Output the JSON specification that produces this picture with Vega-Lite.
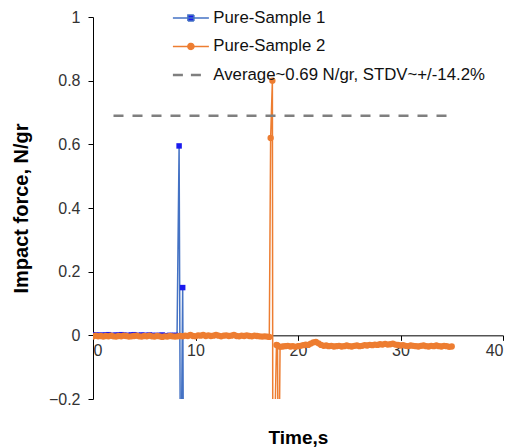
{
  "$schema": "https://vega.github.io/schema/vega-lite/v6.json",
  "width": 410,
  "height": 382,
  "autosize": "none",
  "padding": {"left": 93, "top": 17, "right": 8, "bottom": 49},
  "background": "white",
  "config": {"view": {"stroke": null}, "font": "Liberation Sans"},
  "datasets": {
    "s1": [
      {"t":0,"f":0.002},{"t":0.25,"f":0.0},{"t":0.5,"f":0.001},{"t":0.75,"f":-0.001},{"t":1,"f":0.001},{"t":1.25,"f":0.0},{"t":1.5,"f":0.002},{"t":1.75,"f":0.0},{"t":2,"f":-0.001},{"t":2.25,"f":0.001},{"t":2.5,"f":0.0},{"t":2.75,"f":0.002},{"t":3,"f":0.001},{"t":3.25,"f":-0.001},{"t":3.5,"f":0.0},{"t":3.75,"f":0.001},{"t":4,"f":0.002},{"t":4.25,"f":0.0},{"t":4.5,"f":-0.001},{"t":4.75,"f":0.001},{"t":5,"f":0.0},{"t":5.25,"f":-0.001},{"t":5.5,"f":0.001},{"t":5.75,"f":0.0},{"t":6,"f":-0.002},{"t":6.25,"f":0.0},{"t":6.5,"f":-0.001},{"t":6.75,"f":0.001},{"t":7,"f":-0.001},{"t":7.25,"f":-0.002},{"t":7.5,"f":0.0},{"t":7.75,"f":-0.001},{"t":8,"f":0.0},{"t":8.2,"f":-0.001},
      {"t":8.4,"f":0.595},{"t":8.55,"f":-0.6},{"t":8.75,"f":0.15},{"t":8.85,"f":-0.6}
    ],
    "s2": [
      {"t":0,"f":-0.004},{"t":0.25,"f":-0.001},{"t":0.5,"f":-0.003},{"t":0.75,"f":-0.002},{"t":1,"f":-0.004},{"t":1.25,"f":-0.002},{"t":1.5,"f":-0.003},{"t":1.75,"f":-0.001},{"t":2,"f":-0.003},{"t":2.25,"f":-0.004},{"t":2.5,"f":-0.002},{"t":2.75,"f":-0.003},{"t":3,"f":-0.001},{"t":3.25,"f":-0.002},{"t":3.5,"f":-0.004},{"t":3.75,"f":-0.003},{"t":4,"f":-0.002},{"t":4.25,"f":-0.001},{"t":4.5,"f":-0.003},{"t":4.75,"f":-0.004},{"t":5,"f":-0.002},{"t":5.25,"f":-0.003},{"t":5.5,"f":-0.001},{"t":5.75,"f":-0.003},{"t":6,"f":-0.004},{"t":6.25,"f":-0.002},{"t":6.5,"f":-0.003},{"t":6.75,"f":-0.005},{"t":7,"f":-0.003},{"t":7.25,"f":-0.004},{"t":7.5,"f":-0.002},{"t":7.75,"f":-0.003},{"t":8,"f":-0.004},{"t":8.25,"f":-0.003},{"t":8.5,"f":-0.002},{"t":8.75,"f":-0.003},{"t":9,"f":-0.001},{"t":9.25,"f":-0.002},{"t":9.5,"f":0.001},{"t":9.75,"f":-0.002},{"t":10,"f":-0.003},{"t":10.25,"f":0.0},{"t":10.5,"f":-0.001},{"t":10.75,"f":0.001},{"t":11,"f":-0.002},{"t":11.25,"f":0.0},{"t":11.5,"f":-0.002},{"t":11.75,"f":-0.001},{"t":12,"f":0.001},{"t":12.25,"f":-0.001},{"t":12.5,"f":-0.003},{"t":12.75,"f":-0.001},{"t":13,"f":0.0},{"t":13.25,"f":-0.002},{"t":13.5,"f":-0.001},{"t":13.75,"f":0.001},{"t":14,"f":-0.002},{"t":14.25,"f":-0.003},{"t":14.5,"f":-0.001},{"t":14.75,"f":-0.002},{"t":15,"f":0.0},{"t":15.25,"f":-0.002},{"t":15.5,"f":-0.003},{"t":15.75,"f":-0.001},{"t":16,"f":-0.002},{"t":16.25,"f":-0.003},{"t":16.5,"f":-0.004},{"t":16.75,"f":-0.003},{"t":17,"f":-0.004},{"t":17.2,"f":-0.005},
      {"t":17.33,"f":0.62},{"t":17.5,"f":0.8},{"t":17.55,"f":-0.6},{"t":17.9,"f":-0.03},{"t":18.0,"f":-0.032},{"t":18.1,"f":-0.6},{"t":18.25,"f":-0.036},
      {"t":18.5,"f":-0.035},{"t":18.75,"f":-0.034},{"t":19,"f":-0.033},{"t":19.25,"f":-0.035},{"t":19.5,"f":-0.034},{"t":19.75,"f":-0.036},{"t":20,"f":-0.034},{"t":20.25,"f":-0.033},{"t":20.5,"f":-0.031},{"t":20.75,"f":-0.029},{"t":21,"f":-0.03},{"t":21.25,"f":-0.026},{"t":21.5,"f":-0.022},{"t":21.75,"f":-0.021},{"t":22,"f":-0.025},{"t":22.25,"f":-0.03},{"t":22.5,"f":-0.033},{"t":22.75,"f":-0.032},{"t":23,"f":-0.034},{"t":23.25,"f":-0.033},{"t":23.5,"f":-0.035},{"t":23.75,"f":-0.034},{"t":24,"f":-0.033},{"t":24.25,"f":-0.035},{"t":24.5,"f":-0.034},{"t":24.75,"f":-0.032},{"t":25,"f":-0.034},{"t":25.25,"f":-0.035},{"t":25.5,"f":-0.033},{"t":25.75,"f":-0.032},{"t":26,"f":-0.034},{"t":26.25,"f":-0.033},{"t":26.5,"f":-0.031},{"t":26.75,"f":-0.032},{"t":27,"f":-0.03},{"t":27.25,"f":-0.031},{"t":27.5,"f":-0.029},{"t":27.75,"f":-0.03},{"t":28,"f":-0.028},{"t":28.25,"f":-0.029},{"t":28.5,"f":-0.027},{"t":28.75,"f":-0.029},{"t":29,"f":-0.028},{"t":29.25,"f":-0.026},{"t":29.5,"f":-0.029},{"t":29.75,"f":-0.03},{"t":30,"f":-0.032},{"t":30.25,"f":-0.031},{"t":30.5,"f":-0.033},{"t":30.75,"f":-0.034},{"t":31,"f":-0.032},{"t":31.25,"f":-0.033},{"t":31.5,"f":-0.034},{"t":31.75,"f":-0.035},{"t":32,"f":-0.033},{"t":32.25,"f":-0.032},{"t":32.5,"f":-0.034},{"t":32.75,"f":-0.035},{"t":33,"f":-0.033},{"t":33.25,"f":-0.034},{"t":33.5,"f":-0.032},{"t":33.75,"f":-0.034},{"t":34,"f":-0.035},{"t":34.25,"f":-0.033},{"t":34.5,"f":-0.034},{"t":34.75,"f":-0.036},{"t":35,"f":-0.035}
    ],
    "avg": [{"t":2,"f":0.69},{"t":35,"f":0.69}]
  },
  "encoding": {
    "x": {
      "field": "t", "type": "quantitative",
      "scale": {"domain": [0, 40], "nice": false, "zero": false},
      "axis": {
        "title": "Time,s", "values": [0, 10, 20, 30, 40], "offset": -63.67,
        "grid": false, "domainColor": "#000", "tickColor": "#000", "tickSize": 5,
        "labelFontSize": 16, "labelColor": "#333", "labelPadding": 2,
        "titleFontSize": 19, "titleFontWeight": "bold", "titleColor": "#000", "titlePadding": 70
      }
    },
    "y": {
      "field": "f", "type": "quantitative",
      "scale": {"domain": [-0.2, 1], "nice": false, "zero": false},
      "axis": {
        "title": "Impact force, N/gr", "values": [-0.2, 0, 0.2, 0.4, 0.6, 0.8, 1],
        "labelExpr": "format(datum.value, '~g')",
        "grid": false, "domainColor": "#000", "tickColor": "#000", "tickSize": 5,
        "labelFontSize": 16, "labelColor": "#333", "labelPadding": 8,
        "titleFontSize": 20, "titleFontWeight": "bold", "titleColor": "#000", "titlePadding": 17
      }
    }
  },
  "layer": [
    {
      "data": {"name": "s1"},
      "mark": {"type": "line", "strokeWidth": 1.5, "clip": true},
      "encoding": {
        "color": {
          "datum": "Pure-Sample 1",
          "scale": {
            "domain": ["Pure-Sample 1", "Pure-Sample 2", "Average~0.69 N/gr, STDV~+/-14.2%"],
            "range": ["#4472C4", "#ED7D31", "#7F7F7F"]
          },
          "legend": {
            "title": null, "orient": "none", "legendX": 89.5, "legendY": -7.5,
            "labelFontSize": 16.8, "labelColor": "#111", "labelOffset": 14, "labelLimit": 400,
            "rowPadding": 10.5, "symbolSize": 144, "symbolStrokeWidth": 1.5,
            "encode": {
              "symbols": {
                "update": {
                  "shape": {"signal": "datum.value === 'Pure-Sample 1' ? 'M-3,0H3M-0.5,-0.5H0.5V0.5H-0.5Z' : datum.value === 'Pure-Sample 2' ? 'M-3,0H3M0.5,0A0.5,0.5,0,1,1,-0.5,0A0.5,0.5,0,1,1,0.5,0Z' : 'M-3,0H3'"},
                  "fill": {"signal": "datum.value === 'Pure-Sample 1' ? '#1a1aee' : datum.value === 'Pure-Sample 2' ? '#ED7D31' : 'transparent'"},
                  "stroke": {"signal": "datum.value === 'Pure-Sample 1' ? '#4472C4' : datum.value === 'Pure-Sample 2' ? '#ED7D31' : '#7F7F7F'"},
                  "strokeDash": {"signal": "datum.value === 'Pure-Sample 1' || datum.value === 'Pure-Sample 2' ? [1,0] : [10,8]"},
                  "strokeWidth": {"signal": "datum.value === 'Pure-Sample 1' || datum.value === 'Pure-Sample 2' ? 1.5 : 2.5"},
                  "opacity": {"value": 1}
                }
              }
            }
          }
        }
      }
    },
    {
      "data": {"name": "s1"},
      "mark": {"type": "point", "shape": "square", "filled": true, "color": "#1a1aee", "size": 30, "opacity": 1, "clip": true}
    },
    {
      "data": {"name": "s2"},
      "mark": {"type": "line", "strokeWidth": 1.5, "clip": true},
      "encoding": {"color": {"datum": "Pure-Sample 2"}}
    },
    {
      "data": {"name": "s2"},
      "mark": {"type": "point", "shape": "circle", "filled": true, "color": "#ED7D31", "size": 40, "opacity": 1, "clip": true}
    },
    {
      "data": {"name": "avg"},
      "mark": {"type": "line", "strokeWidth": 2.5, "strokeDash": [10, 9], "clip": true},
      "encoding": {"color": {"datum": "Average~0.69 N/gr, STDV~+/-14.2%"}}
    }
  ]
}
